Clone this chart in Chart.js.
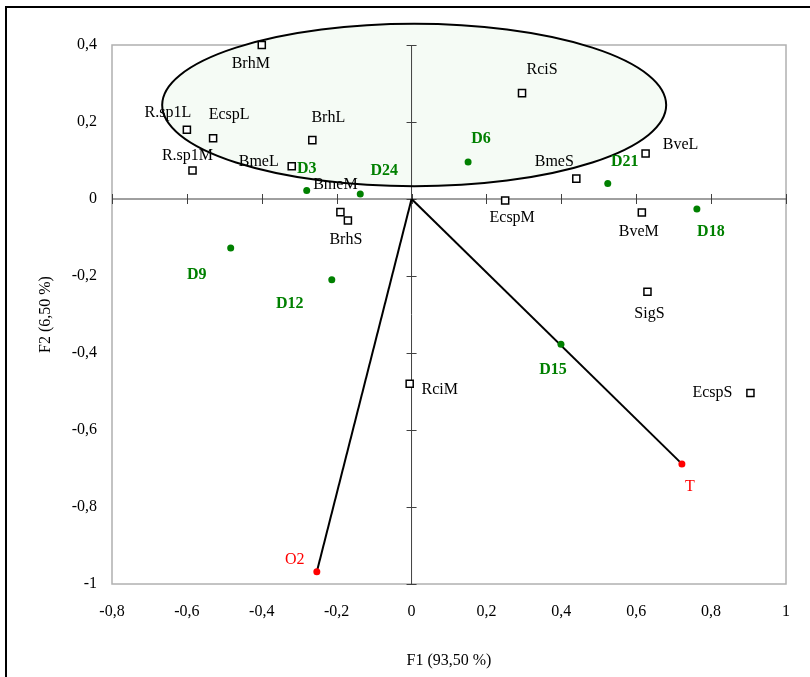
<!DOCTYPE html>
<html>
<head>
<meta charset="utf-8">
<script src="https://cdn.jsdelivr.net/npm/chart.js@4.4.0/dist/chart.umd.min.js"></script>
<style>
  body { margin: 0; background: #fff; overflow: hidden; }
  #frame { position: absolute; left: 5px; top: 6px; width: 900px; height: 900px;
           border-left: 2px solid #000; border-top: 2px solid #000; }
  #chart { position: absolute; left: 0; top: 0; }
</style>
</head>
<body>
<div id="frame"></div>
<canvas id="chart" width="810" height="677"></canvas>
<script>
// Observations (carrés)
const squareNames = ['BrhM', 'R.sp1L', 'EcspL', 'R.sp1M', 'BmeL', 'BrhL', 'RciS', 'BmeS',
                     'EcspM', 'BmeM', 'BrhS', 'BveL', 'BveM', 'SigS', 'EcspS', 'RciM'];
const squareX = [-0.40, -0.60, -0.53, -0.585, -0.32, -0.265, 0.295, 0.44,
                 0.25, -0.19, -0.17, 0.625, 0.615, 0.63, 0.905, -0.005];
const squareY = [0.40, 0.18, 0.158, 0.074, 0.085, 0.153, 0.275, 0.053,
                 -0.004, -0.034, -0.056, 0.118, -0.035, -0.241, -0.504, -0.48];

// Dates (points verts)
const dateNames = ['D3', 'D24', 'D6', 'D21', 'D18', 'D9', 'D12', 'D15'];
const dateX = [-0.28, -0.137, 0.151, 0.524, 0.762, -0.483, -0.213, 0.399];
const dateY = [0.022, 0.013, 0.096, 0.04, -0.026, -0.127, -0.21, -0.377];

// Variables (points rouges)
const varNames = ['O2', 'T'];
const varX = [-0.253, 0.722];
const varY = [-0.968, -0.688];

// Ellipse du groupe
const ellipseCenter = [0.007, 0.244];
const ellipseRadii = [0.673, 0.211];

// Ticks
const xTicks = [-0.8, -0.6, -0.4, -0.2, 0, 0.2, 0.4, 0.6, 0.8, 1];
const yTicks = [0.4, 0.2, 0, -0.2, -0.4, -0.6, -0.8, -1];

// décalages des étiquettes en pixels
const labelOffset = {
  'BrhM': [-11, 19], 'R.sp1L': [-19, -17], 'EcspL': [16, -23], 'R.sp1M': [-5, -15],
  'BmeL': [-33, -4], 'BrhL': [16, -22], 'RciS': [20, -23], 'BmeS': [-22, -17],
  'EcspM': [7, 17], 'BmeM': [-5, -27], 'BrhS': [-2, 19], 'BveL': [35, -9],
  'BveM': [-3, 19], 'SigS': [2, 22], 'EcspS': [-38, 0], 'RciM': [30, 6],
  'D3': [0, -22], 'D24': [24, -23], 'D6': [13, -23], 'D21': [17, -22],
  'D18': [14, 23], 'D9': [-34, 27], 'D12': [-42, 24], 'D15': [-8, 26],
  'O2': [-22, -12], 'T': [8, 23]
};

const FONT = '"Liberation Serif", "Times New Roman", serif';

function toPoints(xs, ys) {
  return xs.map((x, i) => ({ x: x, y: ys[i] }));
}

function fmt(v) {
  const r = Math.round(v * 10) / 10;
  return String(r).replace('.', ',');
}

// Cadre gris, axes du zéro et ellipse
const backgroundPlugin = {
  id: 'background',
  beforeDatasetsDraw(chart) {
    const { ctx, chartArea, scales } = chart;
    const xs = scales.x, ys = scales.y;
    ctx.save();
    ctx.strokeStyle = '#b0b0b0';
    ctx.lineWidth = 1.5;
    ctx.strokeRect(chartArea.left, chartArea.top, chartArea.right - chartArea.left, chartArea.bottom - chartArea.top);

    // ellipse
    const cx = xs.getPixelForValue(ellipseCenter[0]);
    const cy = ys.getPixelForValue(ellipseCenter[1]);
    const rx = xs.getPixelForValue(ellipseCenter[0] + ellipseRadii[0]) - cx;
    const ry = cy - ys.getPixelForValue(ellipseCenter[1] + ellipseRadii[1]);
    ctx.beginPath();
    ctx.ellipse(cx, cy, rx, ry, 0, 0, Math.PI * 2);
    ctx.fillStyle = '#f5fbf5';
    ctx.fill();

    // axes passant par l'origine
    const x0 = xs.getPixelForValue(0), y0 = ys.getPixelForValue(0);
    ctx.strokeStyle = '#404040';
    ctx.lineWidth = 1;
    ctx.beginPath();
    ctx.moveTo(xs.getPixelForValue(xTicks[0]), y0);
    ctx.lineTo(xs.getPixelForValue(xTicks[xTicks.length - 1]), y0);
    ctx.moveTo(x0, ys.getPixelForValue(yTicks[0]));
    ctx.lineTo(x0, ys.getPixelForValue(yTicks[yTicks.length - 1]));
    xTicks.forEach(t => {
      const px = Math.round(xs.getPixelForValue(t)) + 0.5;
      ctx.moveTo(px, y0 - 5);
      ctx.lineTo(px, y0 + 5);
    });
    yTicks.forEach(t => {
      const py = Math.round(ys.getPixelForValue(t)) + 0.5;
      ctx.moveTo(x0 - 5, py);
      ctx.lineTo(x0 + 5, py);
    });
    ctx.stroke();

    ctx.strokeStyle = '#000';
    ctx.lineWidth = 2;
    ctx.beginPath();
    ctx.ellipse(cx, cy, rx, ry, 0, 0, Math.PI * 2);
    ctx.stroke();
    ctx.restore();
  }
};

// Étiquettes des points
const labelPlugin = {
  id: 'labels',
  afterDatasetsDraw(chart) {
    const { ctx } = chart;
    ctx.save();
    ctx.textAlign = 'center';
    ctx.textBaseline = 'middle';
    chart.data.datasets.forEach((ds, di) => {
      if (!ds.names) return;
      const meta = chart.getDatasetMeta(di);
      ctx.fillStyle = ds.labelColor;
      ctx.font = (ds.labelBold ? 'bold ' : '') + '16px ' + FONT;
      ds.names.forEach((name, i) => {
        const el = meta.data[i];
        const off = labelOffset[name] || [0, -15];
        ctx.fillText(name, el.x + off[0], el.y + off[1]);
      });
    });
    ctx.restore();
  }
};

const origin = { x: 0, y: 0 };

new Chart(document.getElementById('chart'), {
  type: 'scatter',
  data: {
    datasets: [
      {
        data: toPoints(squareX, squareY),
        names: squareNames,
        labelColor: '#000',
        pointStyle: 'rect',
        pointRadius: 5,
        backgroundColor: '#fff',
        borderColor: '#000',
        borderWidth: 1.5,
        clip: false,
        order: 1
      },
      {
        data: toPoints(dateX, dateY),
        names: dateNames,
        labelColor: '#008000',
        labelBold: true,
        pointRadius: 3.5,
        backgroundColor: '#008000',
        borderColor: '#008000',
        borderWidth: 0,
        clip: false,
        order: 1
      },
      {
        data: toPoints(varX, varY),
        names: varNames,
        labelColor: '#ff0000',
        pointRadius: 3.5,
        backgroundColor: '#ff0000',
        borderColor: '#ff0000',
        borderWidth: 0,
        clip: false,
        order: 0
      },
      {
        data: [origin, { x: varX[0], y: varY[0] }],
        showLine: true,
        borderColor: '#000',
        borderWidth: 2,
        pointRadius: 0,
        order: 5
      },
      {
        data: [origin, { x: varX[1], y: varY[1] }],
        showLine: true,
        borderColor: '#000',
        borderWidth: 2,
        pointRadius: 0,
        order: 5
      }
    ]
  },
  options: {
    responsive: false,
    animation: false,
    layout: { padding: { top: 45, right: 24, left: 0, bottom: 0 } },
    plugins: {
      legend: { display: false },
      tooltip: { enabled: false }
    },
    scales: {
      x: {
        type: 'linear',
        min: xTicks[0],
        max: xTicks[xTicks.length - 1],
        afterBuildTicks: s => { s.ticks = xTicks.map(v => ({ value: v })); },
        afterFit: s => { s.height = 93; },
        grid: { display: false, drawTicks: false },
        border: { display: false },
        ticks: {
          padding: 18,
          color: '#000',
          font: { family: FONT, size: 16 },
          callback: v => fmt(v)
        },
        title: {
          display: true,
          text: 'F1 (93,50 %)',
          color: '#000',
          font: { family: FONT, size: 16 },
          padding: { top: 0, bottom: 7 }
        }
      },
      y: {
        type: 'linear',
        min: yTicks[yTicks.length - 1],
        max: yTicks[0],
        afterBuildTicks: s => { s.ticks = yTicks.slice().reverse().map(v => ({ value: v })); },
        afterFit: s => { s.width = 112; },
        grid: { display: false, drawTicks: false },
        border: { display: false },
        ticks: {
          padding: 15,
          color: '#000',
          font: { family: FONT, size: 16 },
          callback: v => fmt(v)
        },
        title: {
          display: true,
          text: 'F2 (6,50 %)',
          color: '#000',
          font: { family: FONT, size: 16 },
          padding: { top: 36, bottom: 0 }
        }
      }
    }
  },
  plugins: [backgroundPlugin, labelPlugin]
});
</script>
</body>
</html>
